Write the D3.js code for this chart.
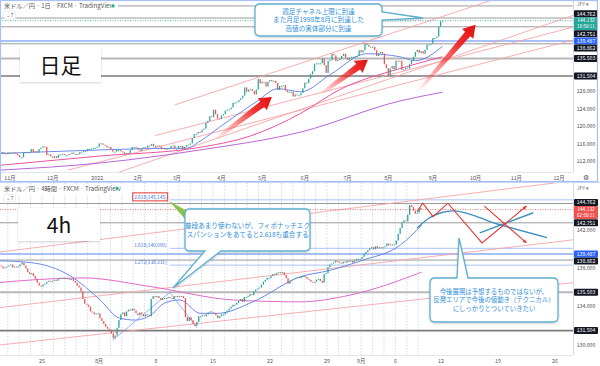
<!DOCTYPE html>
<html><head><meta charset="utf-8">
<script src="https://cdn.jsdelivr.net/npm/d3@7"></script>
<style>
body{margin:0;background:#fff}
svg{display:block}
text{font-family:"Noto Sans CJK JP","Noto Sans",sans-serif}
</style>
</head><body>
<svg id="c" width="600" height="366"></svg>
<script>
// ================= DATA =================
const dailyStart = "2021-10-25";
const dailyFirstOpen = 113.5;
const dailyClose = [
113.7,114.1,113.8,113.6,114.0,
114.0,113.9,114.0,113.8,113.4,112.9,112.9,113.9,114.1,113.9,114.1,114.8,114.1,114.3,114.0,114.8,115.1,115.4,115.3,113.4,113.6,113.1,
112.8,113.2,112.8,113.5,113.6,113.7,113.4,113.4,113.6,113.7,114.0,113.7,113.7,113.6,114.1,114.2,114.4,114.3,114.8,114.8,114.9,115.1,115.1,
115.3,116.1,116.1,115.8,115.6,115.2,115.3,114.6,114.2,114.2,114.6,114.6,114.3,114.1,113.7,113.9,113.8,114.6,115.3,115.3,115.1,
114.7,114.4,114.9,115.2,115.1,115.6,115.6,116.0,115.4,115.5,115.6,115.4,114.9,115.0,114.7,115.0,115.0,115.5,115.6,114.9,
114.9,115.5,115.5,114.8,115.3,115.7,115.8,116.1,117.3,118.2,118.3,118.7,118.6,119.2,119.5,120.8,121.2,122.3,122.1,123.8,122.8,121.8,121.7,
122.5,122.8,123.6,123.8,123.9,124.3,125.4,125.4,125.6,126.0,126.4,127.0,128.9,127.9,128.4,128.5,128.1,127.3,128.4,130.8,129.8,
130.2,130.1,129.1,130.2,130.6,130.3,130.4,129.9,128.3,129.2,129.2,129.4,128.2,127.8,127.9,127.9,126.8,127.3,127.1,127.1,127.6,128.7,
130.0,129.9,130.9,131.9,132.6,134.3,134.4,134.4,134.4,135.5,134.0,132.2,135.0,135.1,136.6,136.2,134.9,135.2,135.4,136.1,136.6,135.7,
135.2,135.7,135.9,135.9,136.0,136.1,137.4,136.9,137.4,138.9,138.6,138.2,138.2,138.2,137.4,136.1,136.7,137.0,136.6,134.2,133.3,
131.6,133.2,133.8,133.0,135.0,134.9,135.0,132.9,133.0,133.4,133.2,134.2,135.0,135.9,137.0,137.5,136.8,137.2,136.6,137.5,138.7,138.7,138.9,
140.2,140.2,140.5,142.8,144.0,144.132
];
// moving averages: [bar index, price]
const dMaBlue = [[0,113.8],[25,114.2],[51,114.6],[75,114.9],[96,115.0],[103,116.6],[113,119.8],[132,125.6],[143,128.6],[155,127.9],[170,131.8],[189,136.6],[206,135.9],[214,135.0],[228,138.3]];
const dMaPink = [[0,111.1],[51,113.2],[103,115.2],[129,117.8],[155,123.0],[175,128.4],[206,133.2],[228,135.9]];
const dMaPurple = [[0,110.0],[51,111.6],[103,114.6],[155,118.7],[206,125.8],[228,127.8]];
// daily trend/channel lines: start anchor and second anchor [bar index, price], extended right
const dChannels = [
  [[90,124.9],[206,141.9]],
  [[35,110.0],[155,123.7]],
  [[61,109.5],[206,131.7]],
  [[80,117.9],[206,132.4]]
];
const dMonthTicks = [["2021-11-01","11月"],["2021-12-01","12月"],["2022-01-03","2022"],["2022-02-01","2月"],["2022-03-01","3月"],["2022-04-01","4月"],["2022-05-02","5月"],["2022-06-01","6月"],["2022-07-01","7月"],["2022-08-01","8月"],["2022-09-01","9月"],["2022-10-03","10月"],["2022-11-01","11月"],["2022-12-01","12月"]];
const dPriceTicks = [112,116,120,124,128];
// arrows: [tail, tip] as [bar index, price]
const dArrows = [
  [[110.5,116.9],[140,126.7]],
  [[164.5,127.2],[189.5,135.2]],
  [[215,127.8],[245,143.2]]
];

// 4h data: 6 bars per trading day, from 2022-07-19
const h4Start = "2022-07-19";
const h4FirstOpen = 138.2;
const h4Close = [
138.1,138.3,138.2,138.0,138.1,138.2,
138.3,138.4,138.1,138.2,138.1,138.2,
138.4,138.6,138.3,138.0,137.6,137.4,
137.5,137.2,136.9,136.5,136.2,136.1,
136.3,136.4,136.6,136.7,136.6,136.7,
136.8,136.7,136.9,137.0,136.9,137.0,
137.0,136.9,136.8,136.9,136.7,136.5,
136.2,136.0,135.6,134.8,134.3,134.2,
134.0,133.5,133.4,133.2,133.3,133.3,
132.8,132.5,132.2,131.9,131.7,131.6,
131.2,130.7,131.0,131.8,132.6,133.2,
133.4,133.0,133.5,133.7,133.6,133.8,
133.6,133.3,133.1,133.4,133.2,133.0,
133.2,133.1,133.0,134.8,135.1,135.0,
135.1,134.9,134.7,134.9,134.8,134.9,
135.0,134.9,134.8,135.1,135.0,135.1,
135.0,135.1,134.9,132.9,132.5,132.9,
132.6,132.2,132.0,132.4,133.0,133.0,
133.1,133.0,133.2,133.4,133.5,133.4,
133.3,133.1,132.8,133.0,133.2,133.2,
133.4,133.6,133.8,134.0,134.2,134.2,
134.4,134.6,134.8,134.5,135.0,135.0,
135.1,135.3,135.2,135.6,135.8,135.9,
136.0,136.3,136.6,136.8,137.0,137.0,
137.2,137.4,137.3,137.5,137.6,137.5,
137.6,137.3,137.0,136.4,136.7,136.8,
136.9,137.0,137.1,137.0,137.2,137.2,
137.1,136.9,136.8,136.6,136.5,136.6,
136.8,136.9,136.7,136.5,137.4,137.5,
138.1,138.4,138.5,138.6,138.8,138.7,
138.6,138.5,138.7,138.6,138.8,138.7,
138.8,138.6,138.8,139.0,138.9,139.0,
139.2,139.5,139.7,139.9,140.1,140.2,
140.0,140.3,140.1,140.2,140.1,140.2,
140.3,140.6,140.4,140.5,140.4,140.5,
140.9,141.6,142.2,142.8,143.0,142.9,
143.6,144.6,144.4,144.0,143.7,143.8,
144.3,144.132
];
// [trading day from 2022-07-25, price]
const hMaBlue = [[-4,138.8],[-1,138.6],[2.5,137.2],[5.1,134.7],[6.8,132.8],[8.2,132.6],[9.5,133.1],[10.8,134.4],[12.1,134.7],[13.9,133.3],[15.4,133.3],[18.5,134.5],[22.6,137.1],[25.3,137.8],[28,138.8],[31.4,140.4],[33.3,142.5]];
const hMaPink = [[-4,136.5],[3.6,137.0],[9.5,136.1],[16.8,134.7],[22.6,134.5],[27,135.2],[33.3,137.6]];
const hChannels = [
  [[-3.7,139.7],[31.4,144.9]],
  [[-3.7,133.9],[22.6,137.6]],
  [[-3.7,130.0],[22.6,133.4]]
];
const fibPoints = [[6.2,130.5],[11.2,135.5],[13.6,131.8]];
const fibLevels = [["2.618",145.145],["1.618",140.090],["1.272",138.331]];
const hDayTicks = [["2022-07-25","25"],["2022-08-01","8月"],["2022-08-08","8"],["2022-08-15","15"],["2022-08-22","22"],["2022-08-29","29"],["2022-09-01","9月"],["2022-09-06","6"],["2022-09-12","12"],["2022-09-19","19"],["2022-09-26","26"]];
const hPriceTicks = [130,132,134,136,138,140,142];
const scenarioRed1 = [[32.9,143.9],[33.4,144.8],[34.3,143.4],[35.6,144.8],[38.6,140.65],[42.5,144.5]];
const scenarioRed2 = [[38.8,144.5],[42.5,140.65]];
const scenarioBlue1 = [[32.9,142.2],[33.9,143.2],[35,143.8],[36.05,144.0],[40,142.6],[44.3,141.2]];
const scenarioBlue2 = [[38.4,141.7],[43.1,143.8]];

const levels = [
  {p:144.762, kind:"gray"},{p:142.751, kind:"gray"},{p:139.487, kind:"blue"},
  {p:138.862, kind:"gray"},{p:135.503, kind:"thick"},{p:131.504, kind:"dark"}
];
const lastPrice = 144.132;
const dailyTimer = "18:50:11", h4Timer = "02:50:11";

// ================= DRAW =================
const svg = d3.select("#c");
const AX = 573;
const GREEN = "#26a69a", RED = "#ef5350";
const defs = svg.append("defs");

function tIndex(base, s){
  const d0 = new Date(base+"T00:00:00Z"), d1 = new Date(s+"T00:00:00Z");
  let n = 0, sign = 1, a = d0, b = d1;
  if (d1 < d0){ a = d1; b = d0; sign = -1; }
  for (let d = new Date(a); d < b; d.setUTCDate(d.getUTCDate()+1)){
    const w = d.getUTCDay(); if (w !== 0 && w !== 6) n++;
  }
  return n*sign;
}
function clip(id, x, y, w, h){
  defs.append("clipPath").attr("id", id).append("rect").attr("x",x).attr("y",y).attr("width",w).attr("height",h);
}
function fmt(p){ return p.toFixed(3); }

function rayLine(g, xs, ys, a, b, x1, color){
  const ax = xs(a[0]), ay = ys(a[1]), bx = xs(b[0]), by = ys(b[1]);
  const k = (by-ay)/(bx-ax);
  const x0 = Math.max(0, ax);
  g.append("line").attr("x1",x0).attr("y1",ay+k*(x0-ax)).attr("x2",x1).attr("y2",ay+k*(x1-ax))
    .attr("stroke",color).attr("stroke-width",0.9);
}

function bubble(g, x, y, w, h, tail, lines, fs){
  const r = 5;
  let p = `M${x+r},${y}`;
  if (tail.side === "top"){ p += `L${tail.a},${y}L${tail.tx},${tail.ty}L${tail.b},${y}`; }
  p += `L${x+w-r},${y}Q${x+w},${y} ${x+w},${y+r}`;
  if (tail.side === "right"){ p += `L${x+w},${tail.a}L${tail.tx},${tail.ty}L${x+w},${tail.b}`; }
  p += `L${x+w},${y+h-r}Q${x+w},${y+h} ${x+w-r},${y+h}`;
  if (tail.side === "bottom"){ p += `L${tail.b},${y+h}L${tail.tx},${tail.ty}L${tail.a},${y+h}`; }
  p += `L${x+r},${y+h}Q${x},${y+h} ${x},${y+h-r}L${x},${y+r}Q${x},${y} ${x+r},${y}Z`;
  g.append("path").attr("d",p).attr("fill","#fff").attr("stroke","#5fb0cf").attr("stroke-width",1.3)
    .attr("filter","url(#shadow)");
  const lh = fs*1.3;
  const cy = y + h/2 - (lines.length-1)*lh/2;
  lines.forEach((t,i)=>{
    g.append("text").attr("x",x+w/2).attr("y",cy+i*lh).attr("dy","0.35em").attr("text-anchor","middle")
      .attr("font-size",fs).attr("fill","#2f8fd8").text(t);
  });
}

const sh = defs.append("filter").attr("id","shadow").attr("x","-20%").attr("y","-20%").attr("width","140%").attr("height","150%");
sh.append("feDropShadow").attr("dx",0).attr("dy",1).attr("stdDeviation",1.2).attr("flood-color","#000").attr("flood-opacity",0.18);

const grad = defs.append("linearGradient").attr("id","arrowGrad").attr("x1","0").attr("x2","1").attr("y1","0").attr("y2","0");
grad.append("stop").attr("offset","0%").attr("stop-color","#ff2020").attr("stop-opacity",0);
grad.append("stop").attr("offset","70%").attr("stop-color","#ee1c1c").attr("stop-opacity",0.9);
grad.append("stop").attr("offset","100%").attr("stop-color","#e01010").attr("stop-opacity",1);

function priceAxis(g, ys, top, bottom, colored, plainTicks){
  g.append("rect").attr("x",AX).attr("y",top).attr("width",600-AX).attr("height",bottom-top).attr("fill","#fff");
  g.append("line").attr("x1",AX+0.5).attr("x2",AX+0.5).attr("y1",top).attr("y2",bottom).attr("stroke","#d6d9e0");
  const items = colored.map(c=>({...c, y: ys(c.p) + (c.timer?3:0), h: c.timer?13:7}));
  items.sort((a,b)=>a.y-b.y);
  const fi = items.findIndex(d=>d.timer);
  for (let i=fi-1;i>=0;i--){ const n=items[i+1]; const mb=n.y-n.h/2; if (items[i].y+items[i].h/2>mb) items[i].y=mb-items[i].h/2; }
  for (let i=fi+1;i<items.length;i++){ const pv=items[i-1]; const mt=pv.y+pv.h/2; if (items[i].y-items[i].h/2<mt) items[i].y=mt+items[i].h/2; }
  plainTicks.forEach(t=>{
    const y = ys(t);
    if (items.some(it=>Math.abs(it.y-y)<7)) return;
    g.append("text").attr("x",586).attr("y",y).attr("dy","0.35em").attr("text-anchor","middle")
      .attr("font-size",5.2).attr("fill","#4a4a4a").attr("font-family","Noto Sans").text(fmt(t));
  });
  items.forEach(it=>{
    g.append("rect").attr("x",AX+1).attr("y",it.y-it.h/2).attr("width",24).attr("height",it.h).attr("rx",1).attr("fill",it.color);
    if (it.timer){
      g.append("text").attr("x",586).attr("y",it.y-3.1).attr("dy","0.35em").attr("text-anchor","middle")
        .attr("font-size",4.9).attr("fill","#fff").attr("font-family","Noto Sans").text(fmt(it.p));
      g.append("text").attr("x",586).attr("y",it.y+3.1).attr("dy","0.35em").attr("text-anchor","middle")
        .attr("font-size",4.6).attr("fill","#fff").attr("font-family","Noto Sans").text(it.timer);
    } else {
      g.append("text").attr("x",586).attr("y",it.y).attr("dy","0.35em").attr("text-anchor","middle")
        .attr("font-size",5.2).attr("fill","#fff").attr("font-family","Noto Sans").text(fmt(it.p));
    }
  });
}

function levelLines(g, ys, x0, x1){
  levels.forEach(l=>{
    const y = ys(l.p);
    const st = {gray:["#9a9a9a",1],blue:["#a7c0f7",2],thick:["#b8b8b8",2],dark:["#7a7a7a",1.6]}[l.kind];
    g.append("line").attr("x1",x0).attr("x2",x1).attr("y1",y).attr("y2",y).attr("stroke",st[0]).attr("stroke-width",st[1]);
  });
}

function candles(g, xs, ys, opens, closes, xOf, w){
  closes.forEach((c,i)=>{
    const o = i===0 ? opens : closes[i-1];
    const x = xOf(i);
    const y1 = ys(Math.max(o,c)), y2 = ys(Math.min(o,c));
    g.append("rect").attr("x",x-w/2).attr("y",y1).attr("width",w).attr("height",Math.max(1,y2-y1))
      .attr("fill", c>=o ? GREEN : RED);
  });
}

function header(g, y, txt, dotX){
  g.append("text").attr("x",4).attr("y",y).attr("dy","0.35em").attr("font-size",6.2).attr("fill","#555").text(txt);
  g.append("circle").attr("cx",dotX).attr("cy",y).attr("r",2.4).attr("fill","#c8efe6");
  g.append("circle").attr("cx",dotX).attr("cy",y).attr("r",1.4).attr("fill",GREEN);
  g.append("rect").attr("x",3.5).attr("y",y+6).attr("width",12).attr("height",7).attr("rx",1.5).attr("fill","#fff").attr("stroke","#e0e0e0").attr("stroke-width",0.6);
  g.append("text").attr("x",9.5).attr("y",y+9.6).attr("dy","0.35em").attr("text-anchor","middle").attr("font-size",5).attr("fill","#555").text("⌄ 7");
}

// ---------------- DAILY PANEL ----------------
const D = {top:0, bottom:172, axisBottom:181};
const xD = d3.scaleLinear().domain([0,288]).range([0.25, 0.25+288*1.94]);
const yD = d3.scaleLinear().domain([131.504,144.762]).range([76,18]);
clip("clipD", 0, D.top, AX, D.bottom-D.top);
const gD = svg.append("g");
const gDc = gD.append("g").attr("clip-path","url(#clipD)");
gDc.append("rect").attr("x",0).attr("y",0).attr("width",AX).attr("height",D.bottom).attr("fill","#fff");

gDc.append("line").attr("x1",0).attr("x2",AX).attr("y1",yD(147.52)).attr("y2",yD(147.52)).attr("stroke","#9a9a9a");
levelLines(gDc, yD, 0, AX);
dChannels.forEach(c=>rayLine(gDc, xD, yD, c[0], c[1], AX, "#f6a5a5"));
const lineD = d3.line().x(d=>xD(d[0])).y(d=>yD(d[1])).curve(d3.curveMonotoneX);
gDc.append("path").attr("d",lineD(dMaPurple)).attr("fill","none").attr("stroke","#b866d6").attr("stroke-width",1);
gDc.append("path").attr("d",lineD(dMaPink)).attr("fill","none").attr("stroke","#e8559f").attr("stroke-width",1);
gDc.append("path").attr("d",lineD(dMaBlue)).attr("fill","none").attr("stroke","#5b7be8").attr("stroke-width",0.9);
candles(gDc, xD, yD, dailyFirstOpen, dailyClose, i=>xD(i), 1.25);
gDc.append("line").attr("x1",0).attr("x2",AX).attr("y1",yD(lastPrice)).attr("y2",yD(lastPrice))
  .attr("stroke",GREEN).attr("stroke-dasharray","1,1.5").attr("stroke-width",0.8);

dArrows.forEach(a=>{
  const x1 = xD(a[0][0]), y1 = yD(a[0][1]), x2 = xD(a[1][0]), y2 = yD(a[1][1]);
  const L = Math.hypot(x2-x1,y2-y1), ang = Math.atan2(y2-y1,x2-x1)*180/Math.PI;
  const sw = 3.4, hw = 7.5, hl = 12;
  const g = gDc.append("g").attr("transform",`translate(${x1},${y1}) rotate(${ang})`);
  g.append("path").attr("d",`M0,${-sw*0.4}L${L-hl},${-sw}L${L-hl},${-hw}L${L},0L${L-hl},${hw}L${L-hl},${sw}L0,${sw*0.4}Z`)
    .attr("fill","url(#arrowGrad)");
});

const hdD = gD.append("g");
hdD.append("rect").attr("x",0).attr("y",1).attr("width",118).attr("height",10).attr("fill","#fff");
header(hdD, 6, "米ドル／円 · 1日 · FXCM · TradingView", 113);
gD.append("rect").attr("x",20).attr("y",47).attr("width",81).attr("height",35).attr("fill","#fff").attr("filter","url(#shadow)");
gD.append("text").attr("x",60.5).attr("y",65).attr("dy","0.36em").attr("text-anchor","middle").attr("font-size",21).attr("fill","#111").text("日足");

bubble(gD, 255, 4, 127, 32, {side:"right", a:12, b:20, tx:423, ty:18},
  ["週足チャネル上限に到達","また月足1998年8月に到達した","高値の実体部分に到達"], 6.6);

gD.append("line").attr("x1",0).attr("x2",AX).attr("y1",D.bottom+0.5).attr("y2",D.bottom+0.5).attr("stroke","#e3e6ec");
dMonthTicks.forEach(t=>{
  gD.append("text").attr("x",xD(tIndex(dailyStart,t[0]))).attr("y",178).attr("dy","0.35em").attr("text-anchor","middle")
    .attr("font-size",5.3).attr("fill","#555").text(t[1]);
});
priceAxis(gD, yD, 0, D.bottom, [
  {p:144.762,color:"#131722"},{p:lastPrice,color:GREEN,timer:dailyTimer},{p:142.751,color:"#131722"},
  {p:139.487,color:"#2962ff"},{p:138.862,color:"#131722"},{p:135.503,color:"#131722"},{p:131.504,color:"#131722"}
], dPriceTicks);
gD.append("text").attr("x",583).attr("y",4).attr("dy","0.35em").attr("text-anchor","middle").attr("font-size",4.6).attr("fill","#666").text("JPY ▾");
gD.append("text").attr("x",586).attr("y",177.5).attr("dy","0.35em").attr("text-anchor","middle").attr("font-size",7).attr("fill","#555").text("⚙");
gD.append("rect").attr("x",0.5).attr("y",0.5).attr("width",597).attr("height",181).attr("fill","none").attr("stroke","#a9bff7").attr("stroke-width",1.2);

// ---------------- 4H PANEL ----------------
const Hp = {top:183, bottom:355, axisBottom:366};
const xH = d3.scaleLinear().domain([0,35]).range([42,441]);
const yH = d3.scaleLinear().domain([130,142]).range([345,230]);
const h4Off = -tIndex(h4Start, "2022-07-25");
const barDay = i => h4Off + Math.floor(i/6) + (i%6)/6 + 1/12;
clip("clipH", 0, Hp.top, AX, Hp.bottom-Hp.top);
const gH = svg.append("g");
const gHc = gH.append("g").attr("clip-path","url(#clipH)");
gHc.append("rect").attr("x",0).attr("y",Hp.top).attr("width",AX).attr("height",Hp.bottom-Hp.top).attr("fill","#fff");
d3.range(h4Off, Math.floor(barDay(h4Close.length-1))+1).forEach(d=>{
  gHc.append("line").attr("x1",xH(d)).attr("x2",xH(d)).attr("y1",Hp.top).attr("y2",Hp.bottom)
    .attr("stroke","#a9c2f0").attr("stroke-dasharray","1.5,1.5").attr("stroke-width",0.6);
});
levelLines(gHc, yH, 0, AX);
fibLevels.forEach(f=>{
  const y = yH(f[1]);
  gHc.append("line").attr("x1",xH(fibPoints[1][0])).attr("x2",AX).attr("y1",y).attr("y2",y).attr("stroke","#a9c2f5").attr("stroke-width",1);
  gHc.append("text").attr("x",xH(fibPoints[1][0])-3).attr("y",y-3).attr("dy","0.35em").attr("text-anchor","end")
    .attr("font-size",4.8).attr("fill","#3d6fd6").attr("font-family","Noto Sans").text(`${f[0]}(${f[1].toFixed(3)})`);
});
hChannels.forEach(c=>rayLine(gHc, xH, yH, c[0], c[1], AX, "#f6a5a5"));
const lineH = d3.line().x(d=>xH(d[0])).y(d=>yH(d[1])).curve(d3.curveMonotoneX);
gHc.append("path").attr("d",lineH(hMaPink)).attr("fill","none").attr("stroke","#e06bc4").attr("stroke-width",1);
gHc.append("path").attr("d",lineH(hMaBlue)).attr("fill","none").attr("stroke","#5b7be8").attr("stroke-width",0.9);
gHc.append("path").attr("d",d3.line().x(d=>xH(d[0])).y(d=>yH(d[1]))(fibPoints)).attr("fill","none").attr("stroke","#7f9ff0").attr("stroke-width",0.8);
candles(gHc, xH, yH, h4FirstOpen, h4Close, i=>xH(barDay(i)), 1.3);
gHc.append("line").attr("x1",0).attr("x2",AX).attr("y1",yH(lastPrice)).attr("y2",yH(lastPrice))
  .attr("stroke",RED).attr("stroke-dasharray","1,1.5").attr("stroke-width",0.8);

const lin = d3.line().x(d=>xH(d[0])).y(d=>yH(d[1]));
gHc.append("path").attr("d",lineH(scenarioBlue1)).attr("fill","none").attr("stroke","#3f8fbf").attr("stroke-width",1.4);
gHc.append("path").attr("d",lin(scenarioBlue2)).attr("fill","none").attr("stroke","#3f8fbf").attr("stroke-width",1.4);
function arrowHead(pts, color){
  const a = pts[pts.length-2], b = pts[pts.length-1];
  const x1=xH(a[0]),y1=yH(a[1]),x2=xH(b[0]),y2=yH(b[1]);
  const ang = Math.atan2(y2-y1,x2-x1);
  const s = 4;
  const p1 = [x2 - s*Math.cos(ang-0.45), y2 - s*Math.sin(ang-0.45)];
  const p2 = [x2 - s*Math.cos(ang+0.45), y2 - s*Math.sin(ang+0.45)];
  gHc.append("path").attr("d",`M${x2},${y2}L${p1}L${p2}Z`).attr("fill",color);
}
[scenarioRed1, scenarioRed2].forEach(s=>{
  gHc.append("path").attr("d",lin(s)).attr("fill","none").attr("stroke","#e53935").attr("stroke-width",1.1);
  arrowHead(s, "#e53935");
});

const hdH = gH.append("g");
hdH.append("rect").attr("x",0).attr("y",184).attr("width",122).attr("height",10).attr("fill","#fff");
header(hdH, 188.5, "米ドル／円 · 4時間 · FXCM · TradingView", 117);
gH.append("rect").attr("x",18).attr("y",208).attr("width",82).attr("height",33).attr("fill","#fff").attr("filter","url(#shadow)");
gH.append("text").attr("x",59).attr("y",225).attr("dy","0.36em").attr("text-anchor","middle").attr("font-size",21).attr("fill","#111").text("4h");
const y2618 = yH(fibLevels[0][1]) - 3;
gH.append("rect").attr("x",xH(fibPoints[1][0])-37).attr("y",y2618-4).attr("width",35).attr("height",8).attr("fill","none").attr("stroke","#e53935").attr("stroke-width",1);
gH.append("path").attr("d","M169,201L189,212L186,220Z").attr("fill","#8bc34a");

bubble(gH, 185, 209, 125, 42, {side:"bottom", a:205, b:221, tx:173, ty:288},
  ["普段あまり使わないが、フィボナッチエク","スパンションをあてると2.618も重合する"], 6.6);
bubble(gH, 430, 278, 128, 44, {side:"top", a:457, b:468, tx:459, ty:238},
  ["今後展開は予想するものではないが、","反発エリアで今後の値動き（テクニカル）","にしっかりとついていきたい"], 6.4);

gH.append("line").attr("x1",0).attr("x2",AX).attr("y1",Hp.bottom+0.5).attr("y2",Hp.bottom+0.5).attr("stroke","#e3e6ec");
hDayTicks.forEach(t=>{
  gH.append("text").attr("x",xH(tIndex("2022-07-25",t[0]))).attr("y",361).attr("dy","0.35em").attr("text-anchor","middle")
    .attr("font-size",5.3).attr("fill","#555").text(t[1]);
});
priceAxis(gH, yH, Hp.top, Hp.bottom, [
  {p:144.762,color:"#131722"},{p:lastPrice,color:RED,timer:h4Timer},{p:142.751,color:"#131722"},
  {p:139.487,color:"#2962ff"},{p:138.862,color:"#131722"},{p:135.503,color:"#131722"},{p:131.504,color:"#131722"}
], hPriceTicks);
gH.append("text").attr("x",583).attr("y",188).attr("dy","0.35em").attr("text-anchor","middle").attr("font-size",4.6).attr("fill","#666").text("JPY ▾");
gH.append("line").attr("x1",0).attr("x2",600).attr("y1",182.5).attr("y2",182.5).attr("stroke","#c5d3f5").attr("stroke-width",1);
</script>
</body></html>
